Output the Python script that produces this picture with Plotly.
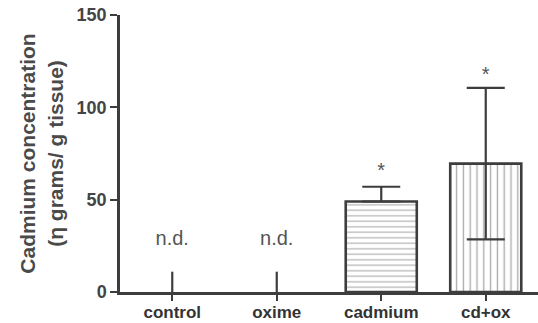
import plotly.graph_objects as go

categories = ["control", "oxime", "cadmium", "cd+ox"]
bar_cats = ["cadmium", "cd+ox"]
bar_values = [49, 69.5]
bar_errors_plus = [8, 41]
bar_errors_minus = [0, 41]
bar_patterns = ["-", "|"]
nd_cats = ["control", "oxime"]
nd_values = [0, 0]
nd_marks = [11, 11]
nd_label_y = [28, 28]
star_values = [65, 117]
y_ticks = [0, 50, 100, 150]

ink = "#3d3d3d"
font = "Liberation Sans, Arial"
fig = go.Figure()

for c, v, ep, em, p in zip(bar_cats, bar_values, bar_errors_plus, bar_errors_minus, bar_patterns):
    fig.add_trace(go.Bar(
        x=[c], y=[v],
        width=0.68,
        marker=dict(color="white", line=dict(color=ink, width=2.6),
                    pattern=dict(shape=p, fgcolor="#555", bgcolor="white",
                                 size=5.5 if p == "-" else 6.8, solidity=0.2)),
        error_y=dict(type="data", array=[ep], arrayminus=[em], color=ink, thickness=2.2, width=19),
        showlegend=False,
    ))

fig.add_trace(go.Scatter(
    x=nd_cats, y=nd_values, mode="markers",
    marker=dict(size=0.1, color=ink),
    error_y=dict(type="data", array=nd_marks, arrayminus=[0, 0], color=ink, thickness=2.2, width=0),
    showlegend=False, cliponaxis=False,
))

fig.add_trace(go.Scatter(
    x=nd_cats, y=nd_label_y, mode="text", text=["n.d.", "n.d."],
    textfont=dict(family=font, size=20, color="#555"),
    showlegend=False,
))

fig.add_trace(go.Scatter(
    x=bar_cats, y=star_values, mode="text", text=["*", "*"],
    textfont=dict(family=font, size=20, color="#555"),
    showlegend=False,
))

fig.update_layout(
    width=538, height=323,
    margin=dict(l=120, r=0, t=15, b=31),
    paper_bgcolor="white", plot_bgcolor="white",
    xaxis=dict(
        categoryorder="array", categoryarray=categories, automargin=False,
        range=[-0.5, 3.5], showline=True, linecolor=ink, linewidth=2.5,
        ticks="outside", ticklen=6, tickwidth=2.2, tickcolor=ink,
        ticklabelstandoff=-3,
        tickfont=dict(family=font, size=17, color="#333", weight="bold"),
        showgrid=False, zeroline=False,
    ),
    yaxis=dict(
        range=[0, 150], tickvals=y_ticks, showline=True, linecolor=ink, linewidth=2.5,
        automargin=False,
        ticks="outside", ticklen=7, tickwidth=2.2, tickcolor=ink,
        tickfont=dict(family=font, size=18, color="#444", weight="bold"),
        showgrid=False, zeroline=False,
        title=dict(text="Cadmium concentration<br>(η grams/ g tissue)",
                   font=dict(family=font, size=21, color="#4a4a4a", weight="bold"),
                   standoff=8),
    ),
)

fig.write_html("out.html")
